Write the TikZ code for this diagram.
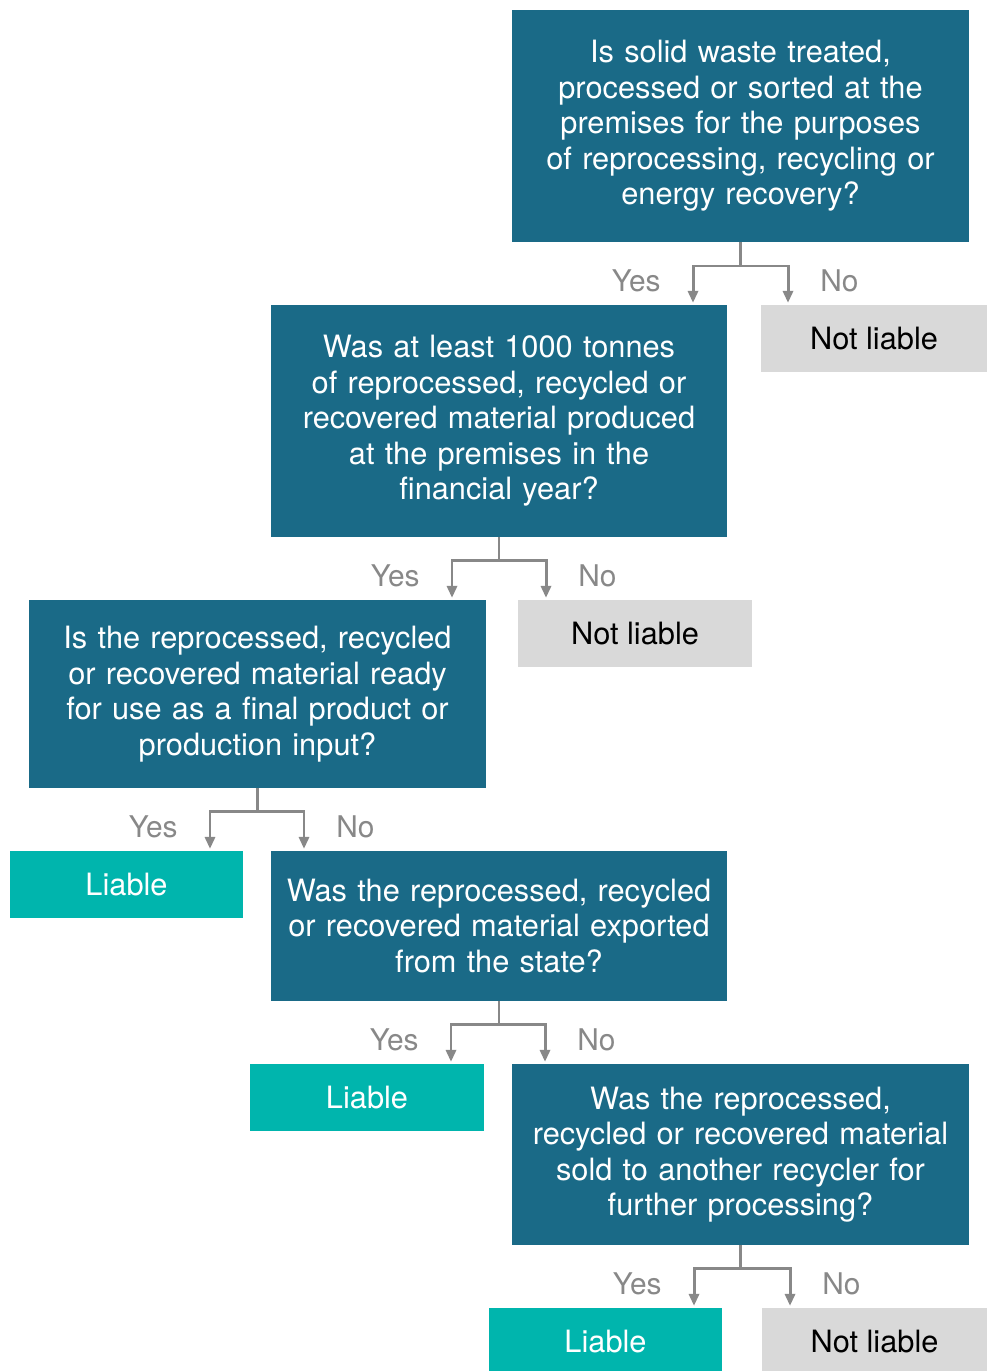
\documentclass[tikz,border=0pt]{standalone}
\usepackage{fontspec}
\setmainfont{TeX Gyre Heros}
\usetikzlibrary{arrows.meta}
\definecolor{qblue}{RGB}{26,106,135}
\definecolor{liableteal}{RGB}{0,181,173}
\definecolor{notgrey}{RGB}{217,217,217}
\definecolor{linegrey}{RGB}{136,136,136}
\tikzstyle{question} = [rectangle, minimum width=9.1cm, text width=8.9cm, align=center, fill=qblue, text=white, font=\fontsize{17.5}{20.2}\selectfont]
\tikzstyle{liable} = [rectangle, minimum width=4.66cm, minimum height=1.34cm, text centered, fill=liableteal, text=white, font=\fontsize{17.5}{20.2}\selectfont]
\tikzstyle{notliable} = [rectangle, minimum width=4.52cm, minimum height=1.34cm, text centered, fill=notgrey, text=black, font=\fontsize{17.5}{20.2}\selectfont]
\tikzstyle{arrow} = [line width=1.7pt, draw=linegrey, -{Triangle[length=0.24cm,width=0.2cm]}, shorten >=1pt]
\tikzstyle{lblyes} = [left=0.5cm, yshift=0.08cm, text=linegrey, font=\fontsize{17}{18}\selectfont]
\tikzstyle{lblno} = [right=0.5cm, yshift=0.08cm, text=linegrey, font=\fontsize{17}{18}\selectfont]

\begin{document}
\begin{tikzpicture}
\useasboundingbox (0,0) rectangle (19.74,-27.42);
\node (q1)  [question, minimum height=4.64cm] at (14.81,-2.52) {Is solid waste treated,\\processed or sorted at the\\premises for the purposes\\of reprocessing, recycling or\\energy recovery?};
\node (nl1) [notliable] at (17.48,-6.77) {Not liable};
\node (q2)  [question, minimum width=9.08cm, minimum height=4.64cm] at (9.98,-8.42) {Was at least 1000 tonnes\\of reprocessed, recycled or\\recovered material produced\\at the premises in the\\financial year?};
\node (nl2) [notliable, minimum width=4.68cm] at (12.7,-12.67) {Not liable};
\node (q3)  [question, minimum height=3.76cm] at (5.15,-13.88) {Is the reprocessed, recycled\\or recovered material ready\\for use as a final product or\\production input?};
\node (l1)  [liable] at (2.53,-17.69) {Liable};
\node (q4)  [question, minimum width=9.08cm, minimum height=3cm] at (9.98,-18.52) {Was the reprocessed, recycled\\or recovered material exported\\from the state?};
\node (l2)  [liable, minimum width=4.68cm] at (7.34,-21.95) {Liable};
\node (q5)  [question, minimum height=3.62cm] at (14.81,-23.09) {Was the reprocessed,\\recycled or recovered material\\sold to another recycler for\\further processing?};
\node (l3)  [liable] at (12.11,-26.83) {Liable};
\node (nl3) [notliable, minimum width=4.5cm] at (17.49,-26.83) {Not liable};
% branch points
\coordinate (y1) at (13.86,-5.32);
\coordinate (n1) at (15.76,-5.32);
\coordinate (y2) at (9.04,-11.2);
\coordinate (n2) at (10.92,-11.2);
\coordinate (y3) at (4.2,-16.22);
\coordinate (n3) at (6.08,-16.22);
\coordinate (y4) at (9.02,-20.48);
\coordinate (n4) at (10.9,-20.48);
\coordinate (y5) at (13.88,-25.36);
\coordinate (n5) at (15.8,-25.36);
\draw [arrow] (q1.south) |- (y1) -- node[lblyes] {Yes} (y1 |- q2.north);
\draw [arrow] (q1.south) |- (n1) -- node[lblno] {No} (n1 |- nl1.north);
\draw [arrow] (q2.south) |- (y2) -- node[lblyes] {Yes} (y2 |- q3.north);
\draw [arrow] (q2.south) |- (n2) -- node[lblno] {No} (n2 |- nl2.north);
\draw [arrow] (q3.south) |- (y3) -- node[lblyes] {Yes} (y3 |- l1.north);
\draw [arrow] (q3.south) |- (n3) -- node[lblno] {No} (n3 |- q4.north);
\draw [arrow] (q4.south) |- (y4) -- node[lblyes] {Yes} (y4 |- l2.north);
\draw [arrow] (q4.south) |- (n4) -- node[lblno] {No} (n4 |- q5.north);
\draw [arrow] (q5.south) |- (y5) -- node[lblyes] {Yes} (y5 |- l3.north);
\draw [arrow] (q5.south) |- (n5) -- node[lblno] {No} (n5 |- nl3.north);
\end{tikzpicture}
\end{document}
